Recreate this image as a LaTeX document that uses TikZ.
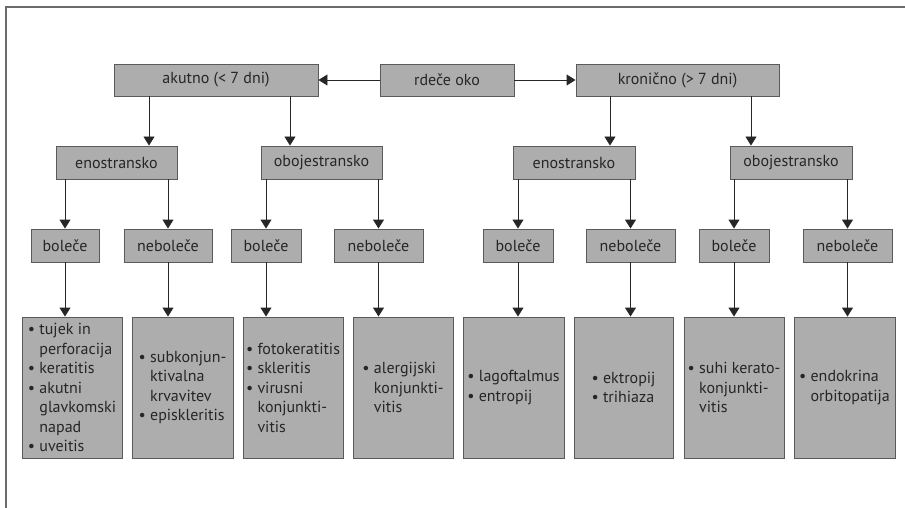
\documentclass[tikz,border=0pt]{standalone}
\usepackage{fontspec}
\setmainfont{PT Sans}
\usetikzlibrary{arrows.meta}
\definecolor{boxfill}{HTML}{ADADAD}
\definecolor{boxline}{HTML}{5A5A5A}
\definecolor{txt}{HTML}{262626}
\definecolor{frame}{HTML}{6A6A6A}
\tikzset{
  box/.style={draw=boxline, fill=boxfill, line width=0.9pt, inner sep=0pt,
    text=txt, font=\fontsize{16}{19}\selectfont},
  list/.style={box, align=left, font=\fontsize{16}{19.5}\selectfont},
  arr/.style={draw=txt, line width=0.9pt, -{Triangle[width=11pt,length=9pt]}},
}
\newcommand{\bl}{\textbullet\ }
\newcommand{\ind}{\hphantom{\textbullet\ }}
\begin{document}
\begin{tikzpicture}[x=1pt,y=-1pt]
\useasboundingbox (0,0) rectangle (905,508);
\draw[frame, line width=2pt] (905,7.5) -- (5.5,7.5) -- (5.5,508);
% level 1
\node[box, minimum width=204, minimum height=32] (ak) at (216,80) {akutno (< 7 dni)};
\node[box, minimum width=134, minimum height=32] (ro) at (447,80) {rdeče oko};
\node[box, minimum width=203, minimum height=32] (kr) at (677.5,80) {kronično (> 7 dni)};
% level 2
\node[box, minimum width=121, minimum height=33] (e1) at (116.5,162.5) {enostransko};
\node[box, minimum width=121, minimum height=33] (o1) at (321.5,162.5) {obojestransko};
\node[box, minimum width=122, minimum height=33] (e2) at (574,162.5) {enostransko};
\node[box, minimum width=122, minimum height=33] (o2) at (791,162.5) {obojestransko};
% level 3
\node[box, minimum width=68, minimum height=33] (b1) at (65,245.5) {boleče};
\node[box, minimum width=88, minimum height=33] (n1) at (168,245.5) {neboleče};
\node[box, minimum width=70, minimum height=33] (b2) at (266,245.5) {boleče};
\node[box, minimum width=89, minimum height=33] (n2) at (378.5,245.5) {neboleče};
\node[box, minimum width=70, minimum height=33] (b3) at (518,245.5) {boleče};
\node[box, minimum width=89, minimum height=33] (n3) at (630.5,245.5) {neboleče};
\node[box, minimum width=70, minimum height=33] (b4) at (734,245.5) {boleče};
\node[box, minimum width=89, minimum height=33] (n4) at (847.5,245.5) {neboleče};
% level 4
\node[list, minimum width=100, minimum height=141] (l1) at (72,387.5)
  {\bl tujek in\\ \ind perforacija\\ \bl keratitis\\ \bl akutni\\ \ind glavkomski\\ \ind napad\\ \bl uveitis};
\node[list, minimum width=101, minimum height=141] (l2) at (182.5,387.5)
  {\bl subkonjun-\\ \ind ktivalna\\ \ind krvavitev\\ \bl episkleritis};
\node[list, minimum width=100, minimum height=141] (l3) at (293,387.5)
  {\bl fotokeratitis\\ \bl skleritis\\ \bl virusni\\ \ind konjunkti-\\ \ind vitis};
\node[list, minimum width=100, minimum height=141] (l4) at (403,387.5)
  {\bl alergijski\\ \ind konjunkti-\\ \ind vitis};
\node[list, minimum width=101, minimum height=141] (l5) at (513.5,387.5)
  {\bl lagoftalmus\\ \bl entropij};
\node[list, minimum width=99, minimum height=141] (l6) at (623.5,387.5)
  {\bl ektropij\\ \bl trihiaza};
\node[list, minimum width=100, minimum height=141] (l7) at (734,387.5)
  {\bl suhi kerato-\\ \ind konjunkti-\\ \ind vitis};
\node[list, minimum width=101, minimum height=141] (l8) at (844.5,387.5)
  {\bl endokrina\\ \ind orbitopatija};
% connectors level 0-1
\draw[arr] (ro.west) -- (ak.east);
\draw[arr] (ro.east) -- (kr.west);
% level 1 -> 2
\coordinate (ak1) at (149,96);
\coordinate (ak2) at (290,96);
\coordinate (kr1) at (610,96);
\coordinate (kr2) at (751,96);
\draw[arr] (ak1) -- (ak1 |- e1.north);
\draw[arr] (ak2) -- (ak2 |- o1.north);
\draw[arr] (kr1) -- (kr1 |- e2.north);
\draw[arr] (kr2) -- (kr2 |- o2.north);
% level 2 -> 3
\draw[arr] (e1.south -| b1) -- (b1.north);
\draw[arr] (e1.south -| n1) -- (n1.north);
\draw[arr] (o1.south -| b2) -- (b2.north);
\draw[arr] (o1.south -| n2) -- (n2.north);
\draw[arr] (e2.south -| b3) -- (b3.north);
\draw[arr] (e2.south -| n3) -- (n3.north);
\draw[arr] (o2.south -| b4) -- (b4.north);
\draw[arr] (o2.south -| n4) -- (n4.north);
% level 3 -> 4
\draw[arr] (b1.south) -- (b1.south |- l1.north);
\draw[arr] (n1.south) -- (n1.south |- l2.north);
\draw[arr] (b2.south) -- (b2.south |- l3.north);
\draw[arr] (n2.south) -- (n2.south |- l4.north);
\draw[arr] (b3.south) -- (b3.south |- l5.north);
\draw[arr] (n3.south) -- (n3.south |- l6.north);
\draw[arr] (b4.south) -- (b4.south |- l7.north);
\draw[arr] (n4.south) -- (n4.south |- l8.north);
\end{tikzpicture}
\end{document}
